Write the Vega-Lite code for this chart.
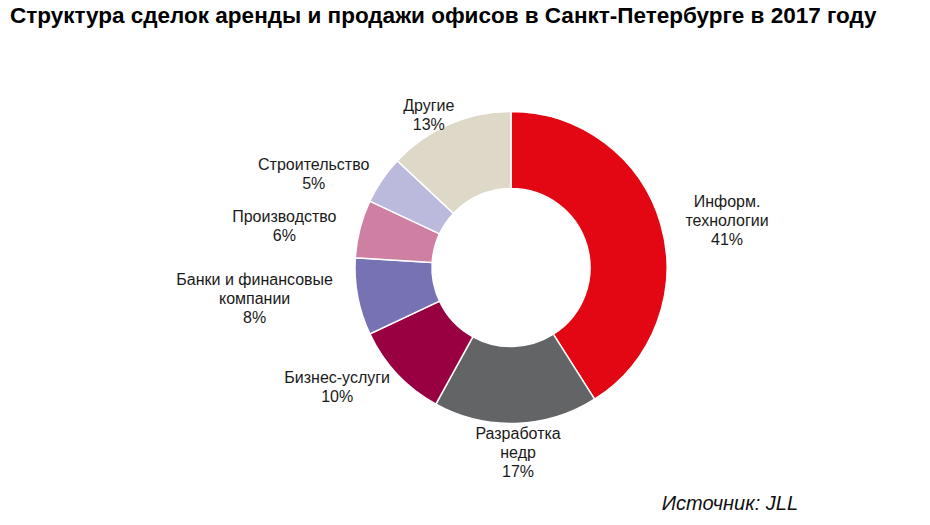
{
  "$schema": "https://vega.github.io/schema/vega-lite/v6.json",
  "padding": {"left": 10, "top": 4, "right": 0, "bottom": 0},
  "background": "white",
  "title": {
    "text": "Структура сделок аренды и продажи офисов в Санкт-Петербурге в 2017 году",
    "anchor": "start",
    "font": "Liberation Sans",
    "fontSize": 22.5,
    "fontWeight": "bold",
    "color": "#000000",
    "offset": 3
  },
  "hconcat": [
    {
      "width": 75,
      "height": 1,
      "data": {"values": []},
      "mark": {"type": "text"},
      "encoding": {}
    },
    {
      "width": 832,
      "height": 475,
      "title": {
        "text": "Источник: JLL",
        "orient": "bottom",
        "anchor": "end",
        "dx": -129,
        "offset": -11,
        "font": "Liberation Sans",
        "fontSize": 20,
        "fontStyle": "italic",
        "fontWeight": "normal",
        "color": "#111111"
      },
      "data": {
        "values": [
          {"rank": 1, "category": "Информ. технологии", "label": "Информ.\nтехнологии\n41%", "value": 41},
          {"rank": 2, "category": "Разработка недр", "label": "Разработка\nнедр\n17%", "value": 17},
          {"rank": 3, "category": "Бизнес-услуги", "label": "Бизнес-услуги\n10%", "value": 10},
          {"rank": 4, "category": "Банки и финансовые компании", "label": "Банки и финансовые\nкомпании\n8%", "value": 8},
          {"rank": 5, "category": "Производство", "label": "Производство\n6%", "value": 6},
          {"rank": 6, "category": "Строительство", "label": "Строительство\n5%", "value": 5},
          {"rank": 7, "category": "Другие", "label": "Другие\n13%", "value": 13}
        ]
      },
      "encoding": {
        "theta": {"field": "value", "type": "quantitative", "stack": true},
        "order": {"field": "rank", "type": "quantitative", "sort": "ascending"}
      },
      "layer": [
        {
          "mark": {"type": "arc", "outerRadius": 156, "innerRadius": 79, "stroke": "#ffffff", "strokeWidth": 1.5},
          "encoding": {
            "color": {
              "field": "category",
              "type": "nominal",
              "legend": null,
              "scale": {
                "domain": ["Информ. технологии", "Разработка недр", "Бизнес-услуги", "Банки и финансовые компании", "Производство", "Строительство", "Другие"],
                "range": ["#E30613", "#636466", "#990042", "#7672B4", "#CF7FA1", "#BBBADC", "#DDD8C7"]
              }
            }
          }
        },
        {
          "mark": {
            "type": "text",
            "radius": 170,
            "lineBreak": "\n",
            "font": "Liberation Sans",
            "fontSize": 16,
            "lineHeight": 19,
            "color": "#1a1a1a",
            "align": "center",
            "baseline": "middle",
            "dx": {"expr": "sin((datum.value_start + datum.value_end) * PI / 100) * (10 + 4.5 * max(length(split(datum.label, '\\n')[0]), length(split(datum.label, '\\n')[1])))"},
            "dy": {"expr": "-(length(split(datum.label, '\\n')) - 1) * 9.5 + 20 * pow(max(0, -cos((datum.value_start + datum.value_end) * PI / 100)), 3) + 4 * cos((datum.value_start + datum.value_end) * PI / 100)"}
          },
          "encoding": {
            "text": {"field": "label", "type": "nominal"}
          }
        }
      ]
    }
  ],
  "config": {"view": {"stroke": null}, "concat": {"spacing": 10}}
}
